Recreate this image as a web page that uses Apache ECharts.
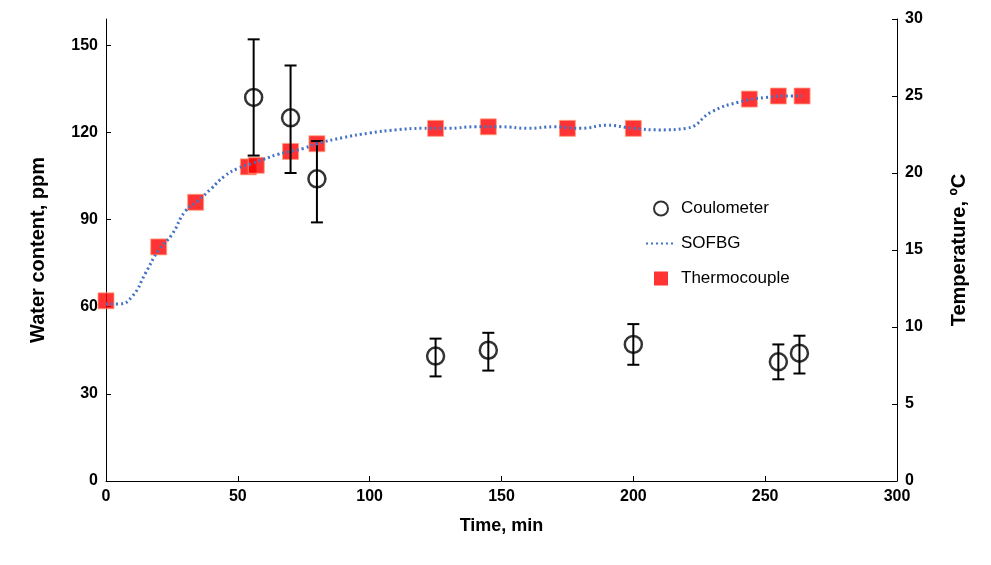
<!DOCTYPE html><html><head><meta charset="utf-8">
<script src="https://cdn.jsdelivr.net/npm/echarts@6/dist/echarts.min.js"></script>
<style>body{margin:0}#c{width:991px;height:565px}</style></head><body><div id="c"></div><script>
const coulX=[56,70,80,125,145,200,255,263];
const coulY=[132,125,104,43,45,47,41,44];
const coulLo=[112,106,89,36,38,40,35,37];
const coulHi=[152,143,117,49,51,54,47,50];
const tcX=[0,20,34,54,57,70,80,125,145,175,200,244,255,264];
const tcY=[11.7,15.2,18.1,20.4,20.5,21.4,21.9,22.9,23.0,22.9,22.9,24.8,25.0,25.0];
const sofX=[0,5,10,15,20,25,30,35,40,45,50,55,60,65,70,75,80,90,100,110,120,130,140,150,160,170,180,190,200,210,220,230,240,250,260,264];
const sofY=[11.5,11.5,12,13.5,15,16,17.5,18.2,19,19.8,20.3,20.6,20.9,21.2,21.4,21.6,21.9,22.3,22.6,22.8,22.9,22.9,23.0,23.0,22.9,23.0,22.9,23.1,22.9,22.8,22.9,24,24.6,24.9,25,25];
const F='Liberation Sans';
const lab={fontSize:16,color:'#000',fontWeight:'bold'};
const ch=echarts.init(document.getElementById('c'));
ch.setOption({animation:false,textStyle:{fontFamily:F},
grid:{left:106,right:94,top:19,bottom:84},
legend:{orient:'vertical',left:640,top:195,itemGap:18,textStyle:{fontSize:17,color:'#000'},itemWidth:30,itemHeight:14,
 data:[{name:'Coulometer',icon:'circle'},{name:'SOFBG',itemStyle:{opacity:0}},{name:'Thermocouple',icon:'path://M8,0h14v14h-14z M0,0h0.01v0.01h-0.01z M30,14h0.01v-0.01h-0.01z',itemStyle:{borderWidth:0}}]},
xAxis:{type:'value',min:0,max:300,interval:50,name:'Time, min',nameLocation:'middle',nameGap:36,
 nameTextStyle:{fontSize:18,fontWeight:'bold',color:'#000'},axisLine:{lineStyle:{color:'#000'}},axisTick:{show:true,length:-5},splitLine:{show:false},axisLabel:lab},
yAxis:[{type:'value',min:0,max:159,interval:30,name:'Water content, ppm',nameLocation:'middle',nameGap:58,
 nameTextStyle:{fontSize:20,fontWeight:'bold',color:'#000'},axisLine:{show:true,lineStyle:{color:'#000'}},axisTick:{show:true,length:-5},splitLine:{show:false},axisLabel:Object.assign({showMaxLabel:false},lab)},
{type:'value',min:0,max:30,interval:5,name:'Temperature, ºC',nameLocation:'middle',nameGap:52,nameRotate:90,
 nameTextStyle:{fontSize:20,fontWeight:'bold',color:'#000'},axisLine:{show:true,lineStyle:{color:'#000'}},axisTick:{show:true,length:-5},splitLine:{show:false},axisLabel:lab}],
series:[
{name:'SOFBG',type:'line',yAxisIndex:1,data:sofX.map((x,i)=>[x,sofY[i]]),smooth:true,showSymbol:false,symbol:'none',lineStyle:{color:'#4472C4',width:3,type:[2,3]},itemStyle:{color:'#4472C4'}},
{name:'Thermocouple',type:'scatter',yAxisIndex:1,data:tcX.map((x,i)=>[x,tcY[i]]),symbol:'rect',symbolSize:16,itemStyle:{color:'#FF0000',borderColor:'#FFA080',borderWidth:1}},
{name:'errbar',type:'custom',yAxisIndex:0,data:coulX.map((x,i)=>[x,coulLo[i],coulHi[i]]),z:3,
 renderItem:(p,api)=>{const a=api.coord([api.value(0),api.value(1)]),b=api.coord([api.value(0),api.value(2)]);const w=6;
  return {type:'group',children:[
  {type:'line',shape:{x1:a[0],y1:a[1],x2:b[0],y2:b[1]},style:{stroke:'#000',lineWidth:2}},
  {type:'line',shape:{x1:a[0]-w,y1:a[1],x2:a[0]+w,y2:a[1]},style:{stroke:'#000',lineWidth:2}},
  {type:'line',shape:{x1:b[0]-w,y1:b[1],x2:b[0]+w,y2:b[1]},style:{stroke:'#000',lineWidth:2}}]};}},
{name:'Coulometer',type:'scatter',yAxisIndex:0,data:coulX.map((x,i)=>[x,coulY[i]]),symbol:'circle',symbolSize:17,z:4,itemStyle:{color:'rgba(255,255,255,0)',borderColor:'#000',borderWidth:2.5}}
]});
</script></body></html>
